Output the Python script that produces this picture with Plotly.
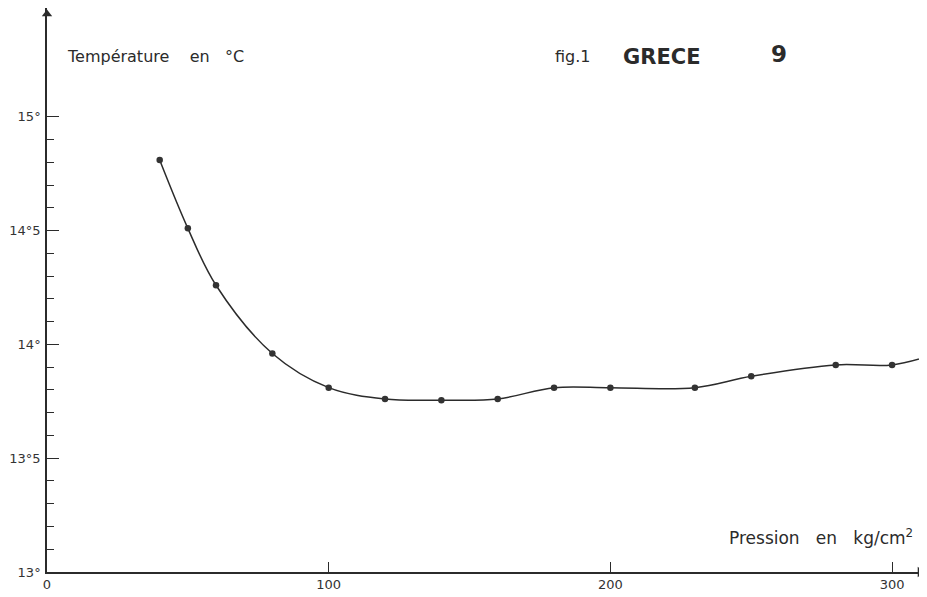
import plotly.graph_objects as go

# Measured points (pression kg/cm2, température °C)
pression = [40, 50, 60, 80, 100, 120, 140, 160, 180, 200, 230, 250, 280, 300]
temperature = [14.81, 14.51, 14.26, 13.96, 13.81, 13.76, 13.755, 13.76, 13.81, 13.81, 13.81, 13.86, 13.91, 13.91]
# The drawn curve continues a little beyond the last measured point
curve_end_pression = 312
curve_end_temperature = 13.945

x_tickvals = [0, 100, 200, 300]
x_ticktext = ["0", "100", "200", "300"]
y_tickvals = [13, 13.5, 14, 14.5, 15]
y_ticktext = ["13°", "13°5", "14°", "14°5", "15°"]
y_minorvals = [13.1, 13.2, 13.3, 13.4, 13.6, 13.7, 13.8, 13.9,
               14.1, 14.2, 14.3, 14.4, 14.6, 14.7, 14.8, 14.9]

FONT = "DejaVu Sans"
INK = "#2b2b2b"

X_MAX = 312.4
Y_MAX = 15.478

fig = go.Figure()
fig.add_trace(go.Scatter(
    x=pression + [curve_end_pression],
    y=temperature + [curve_end_temperature],
    mode="lines",
    line=dict(color=INK, width=1.5, shape="spline", smoothing=1.0),
    hoverinfo="skip", showlegend=False,
))
fig.add_trace(go.Scatter(
    x=pression, y=temperature, mode="markers",
    marker=dict(color="#333333", size=6.5),
    showlegend=False,
))
# Axis arrowheads
fig.add_trace(go.Scatter(
    x=[0], y=[Y_MAX - 0.026], mode="markers", cliponaxis=False,
    marker=dict(symbol="triangle-up", size=9, color=INK),
    hoverinfo="skip", showlegend=False,
))
fig.add_trace(go.Scatter(
    x=[X_MAX - 2.5], y=[13], mode="markers", cliponaxis=False,
    marker=dict(symbol="triangle-right", size=9, color=INK),
    hoverinfo="skip", showlegend=False,
))

fig.update_layout(
    width=919, height=589,
    margin=dict(l=39, r=0, t=0, b=25),
    paper_bgcolor="white", plot_bgcolor="white",
    font=dict(family=FONT, color=INK, size=12),
    xaxis=dict(
        range=[0, X_MAX], showgrid=False, zeroline=False,
        showline=True, linecolor=INK, linewidth=1.5,
        tickmode="array", tickvals=x_tickvals, ticktext=x_ticktext,
        ticks="inside", ticklen=10, tickwidth=1.2, tickcolor=INK,
        tickfont=dict(size=13, color="#333333", family=FONT),
    ),
    yaxis=dict(
        range=[13, Y_MAX], showgrid=False, zeroline=False,
        showline=True, linecolor=INK, linewidth=1.5,
        tickmode="array", tickvals=y_tickvals, ticktext=y_ticktext,
        ticks="inside", ticklen=12, tickwidth=1.2, tickcolor=INK,
        tickfont=dict(size=13, color="#333333", family=FONT),
        ticklabelstandoff=2,
        minor=dict(tickmode="array", tickvals=y_minorvals, ticks="inside",
                   ticklen=7, tickwidth=1.2, tickcolor=INK),
    ),
)

# Texts
fig.add_annotation(x=6.4, y=15.263, xref="x", yref="y", xanchor="left",
                   text="Température&nbsp;&nbsp;&nbsp;&nbsp;en&nbsp;&nbsp;&nbsp;°C", showarrow=False,
                   font=dict(size=16, color=INK, family=FONT))
fig.add_annotation(x=179.6, y=15.263, xref="x", yref="y", xanchor="left",
                   text="fig.1", showarrow=False,
                   font=dict(size=16, color=INK, family=FONT))
fig.add_annotation(x=203.8, y=15.263, xref="x", yref="y", xanchor="left",
                   text="<b>GRECE</b>", showarrow=False,
                   font=dict(size=21, color=INK, family=FONT))
fig.add_annotation(x=256.3, y=15.275, xref="x", yref="y", xanchor="left",
                   text="<b>9</b>", showarrow=False,
                   font=dict(size=23, color=INK, family=FONT))
fig.add_annotation(x=241.4, y=13.154, xref="x", yref="y", xanchor="left",
                   text="Pression&nbsp;&nbsp;&nbsp;en&nbsp;&nbsp;&nbsp;kg/cm<sup>2</sup>", showarrow=False,
                   font=dict(size=17, color=INK, family=FONT))

fig.write_html("out.html")
